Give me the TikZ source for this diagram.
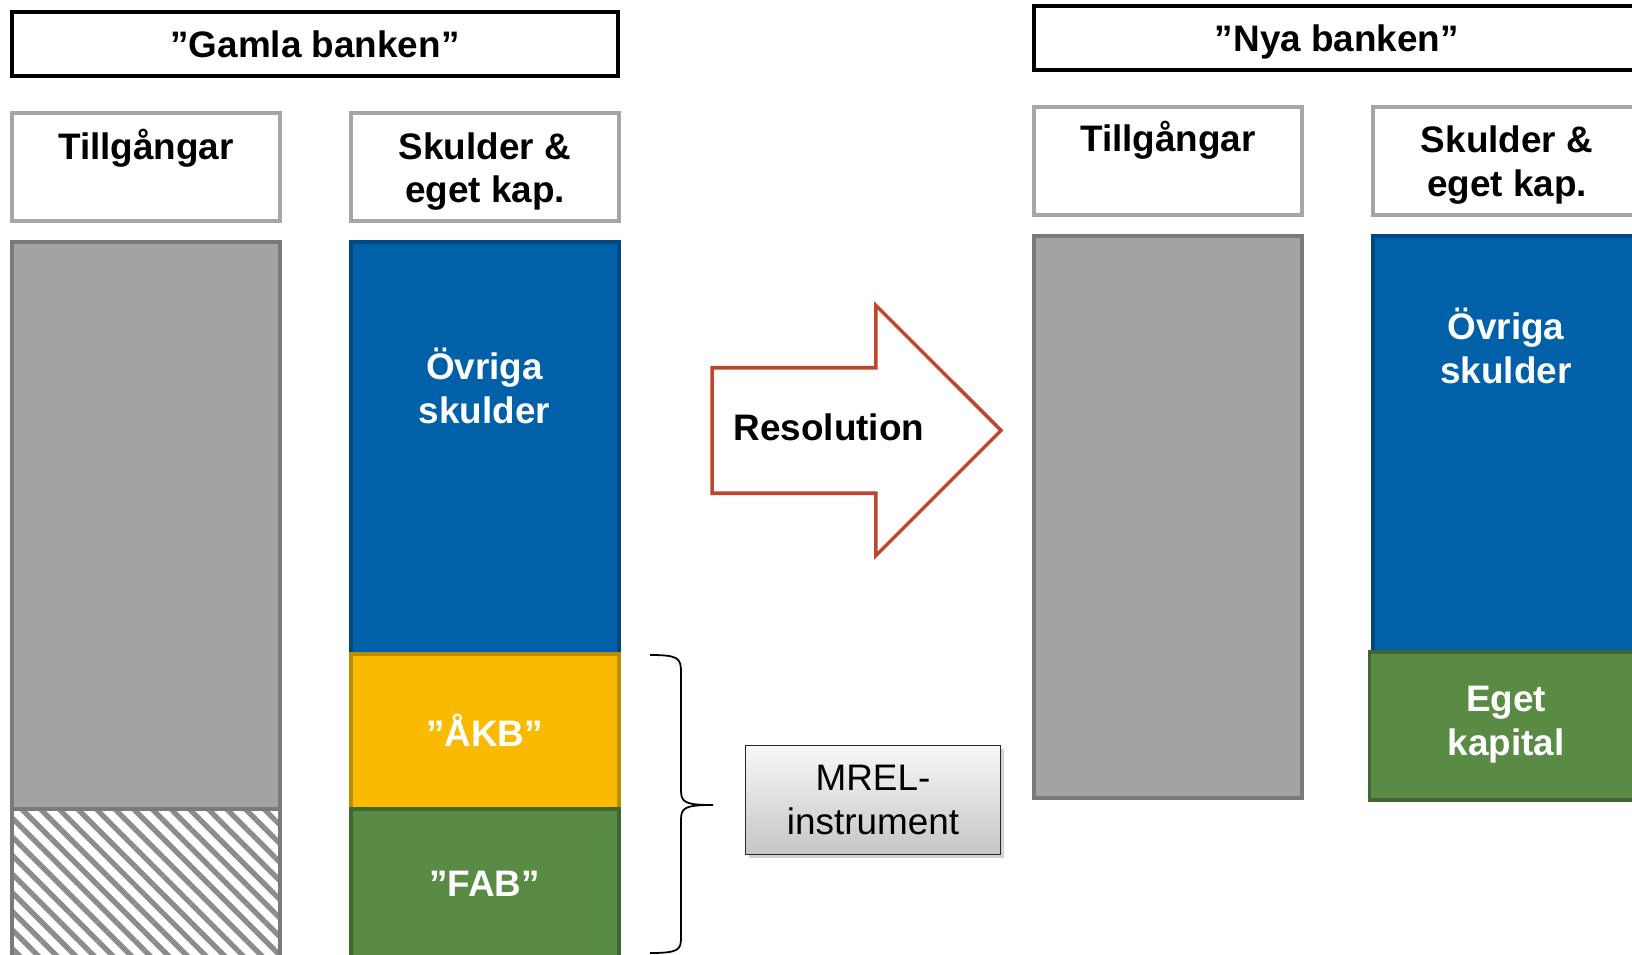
\documentclass[tikz,border=0pt]{standalone}
\usepackage{fontspec}
\setmainfont{Liberation Sans}
\usetikzlibrary{positioning,shapes.arrows,shadows,patterns.meta}
\definecolor{colgray}{RGB}{163,163,163}
\definecolor{colgrayline}{RGB}{122,122,122}
\definecolor{headline}{RGB}{166,166,166}
\definecolor{debtblue}{RGB}{0,97,168}
\definecolor{debtblueline}{RGB}{0,72,130}
\definecolor{akbyellow}{RGB}{249,186,0}
\definecolor{akbyellowline}{RGB}{190,140,0}
\definecolor{fabgreen}{RGB}{90,139,69}
\definecolor{fabgreenline}{RGB}{65,103,48}
\definecolor{resred}{RGB}{192,69,44}
\newcommand*{\lowerby}[2]{\raisebox{-#1}[\height][\depth]{#2}}
\tikzset{
  every node/.style={inner sep=0pt,outer sep=0pt},
  titlebox/.style={draw=black,line width=2.2pt,minimum width=12.12cm,minimum height=1.28cm,anchor=north west},
  headbox/.style={draw=headline,line width=2.2pt,minimum width=5.36cm,minimum height=2.16cm,anchor=north west,align=center},
  colbox/.style={line width=2.2pt,minimum width=5.36cm,anchor=north west},
  coltext/.style={text=white,align=center},
  mrelbox/.style={draw=black!85,line width=0.9pt,top color=gray!6,bottom color=gray!45,
    drop shadow={opacity=0.35,shadow xshift=0.07cm,shadow yshift=-0.07cm},
    minimum width=5.1cm,minimum height=2.18cm,align=center,font=\fontsize{21}{25}\selectfont},
  resarrow/.style={single arrow,draw=resred,fill=white,line width=2pt,minimum height=5.78cm,
    inner ysep=1.22cm,single arrow head extend=1.25cm},
}

\begin{document}
\begin{tikzpicture}[x=0.02cm,y=-0.02cm,font=\fontsize{21}{25}\selectfont\bfseries]
\clip (0,0) rectangle (1632,955);
\fill[white] (0,0) rectangle (1632,955);

% gamla banken
\node[titlebox] (gamla) at (12,12) {”Gamla banken”};
\node[headbox] (tillgL) at (12,113) {\lowerby{1.8pt}{Tillgångar}\\\phantom{g}};
\node[headbox] (skuldL) at (351,113) {\lowerby{2.6pt}{Skulder \&}\\\lowerby{2.6pt}{eget kap.}};
\node[colbox,draw=colgrayline,fill=colgray,minimum height=11.34cm] (grayL) at (12,242) {};
\node[colbox,draw=colgrayline,minimum height=4cm,below=0pt of grayL,
  pattern={Lines[angle=-45,distance=7.5pt,line width=3pt]},pattern color=gray!90] (hatchL) {};
\node[colbox,draw=debtblueline,fill=debtblue,minimum height=8.24cm] (blueL) at (351,242) {};
\node[colbox,draw=akbyellowline,fill=akbyellow,minimum height=3.1cm,below=0pt of blueL] (akb) {};
\node[colbox,draw=fabgreenline,fill=fabgreen,minimum height=4cm,below=0pt of akb] (fab) {};
\node[coltext] (ovrigaL) at (484.5,386) {Övriga\\skulder};
\node[coltext] (akbtext) at (484.5,730) {”ÅKB”};
\node[coltext] (fabtext) at (484.5,884) {”FAB”};

% brace och MREL
\draw[line width=1pt] (650,655) .. controls (678,655) and (681,658) .. (681,672) -- (681,790)
  .. controls (681,802) and (684,805) .. (713,805)
  .. controls (684,805) and (681,808) .. (681,820) -- (681,938)
  .. controls (681,950) and (678,953) .. (650,953);
\node[mrelbox] (mrel) at (873,800) {MREL-\\instrument};

% resolution
\node[resarrow,anchor=tip] (resarrow) at (1001,430.5) {};
\node (reslabel) at (829,427) {Resolution};

% nya banken
\node[titlebox] (nya) at (1034,6) {\lowerby{2.2pt}{”Nya banken”}};
\node[headbox] (tillgR) at (1034,107) {\lowerby{0.8pt}{Tillgångar}\\\phantom{g}};
\node[headbox] (skuldR) at (1373,107) {\lowerby{2.5pt}{Skulder \&}\\\lowerby{2.3pt}{eget kap.}};
\node[colbox,draw=colgrayline,fill=colgray,minimum height=11.24cm] (grayR) at (1034,236) {};
\node[colbox,draw=debtblueline,fill=debtblue,minimum height=8.32cm] (blueR) at (1373,236) {};
\node[colbox,draw=fabgreenline,fill=fabgreen,minimum height=2.96cm,below=0pt of blueR,xshift=-2pt] (eget) {};
\node[coltext] (ovrigaR) at (1506,346) {Övriga\\skulder};
\node[coltext] (egettext) at (1506,725) {Eget\\kapital};
\end{tikzpicture}
\end{document}
